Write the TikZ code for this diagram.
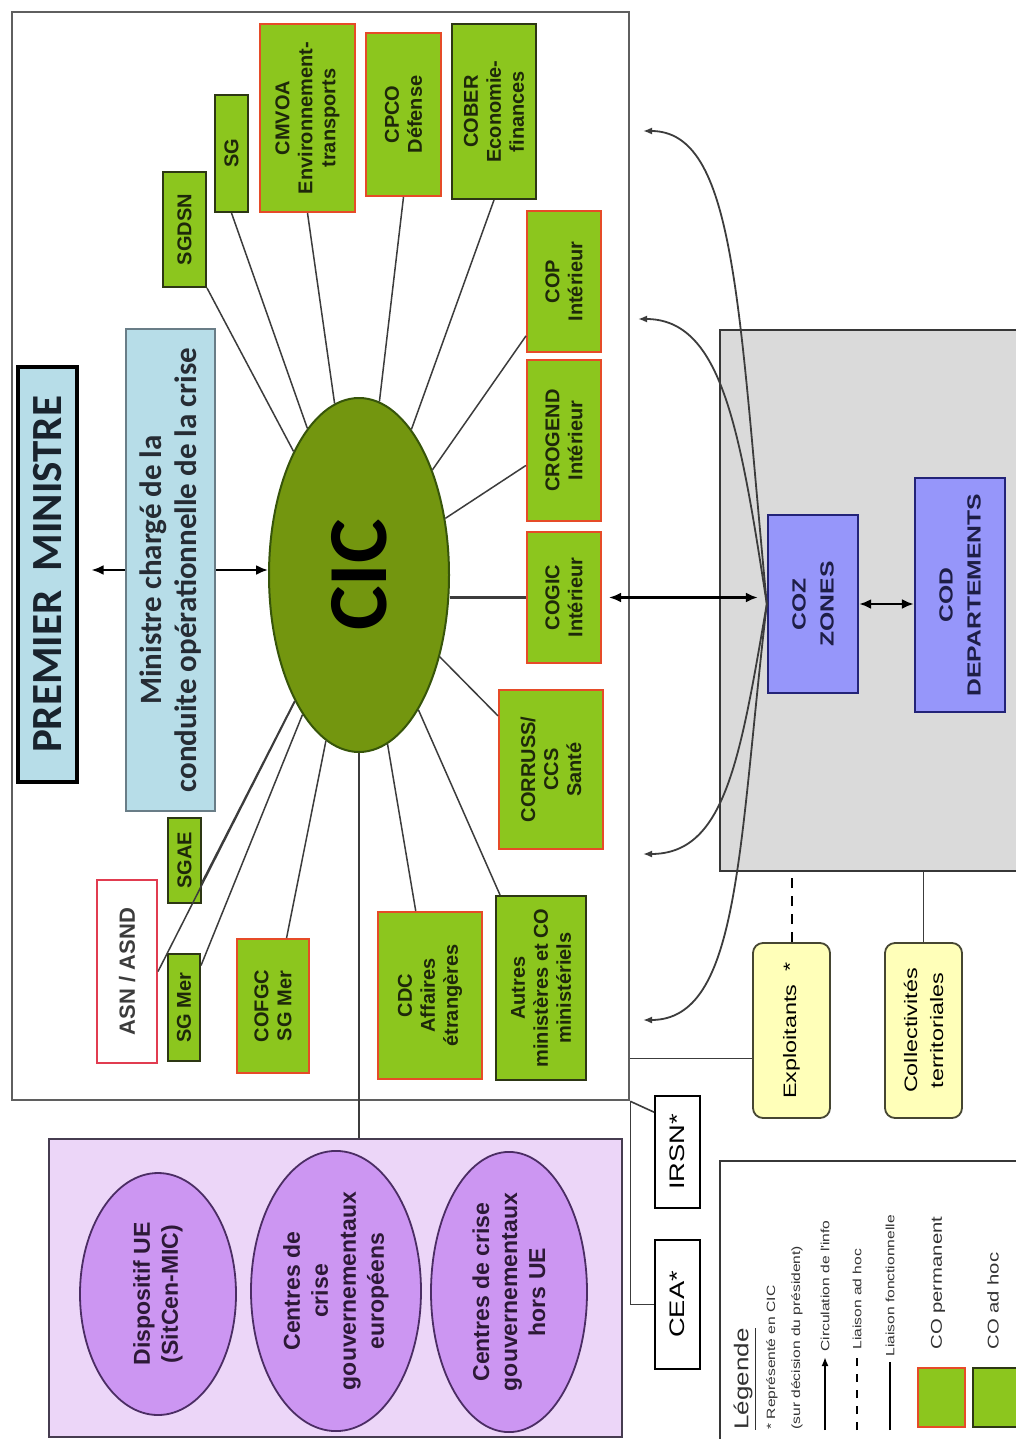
\documentclass[tikz,border=0pt]{standalone}
\usepackage{fontspec}
\setmainfont{Liberation Sans}
\newfontfamily\calib{Carlito}
\newfontfamily\widesans[FakeStretch=1.3]{Liberation Sans}
\usetikzlibrary{shapes.geometric,arrows.meta,calc}

\definecolor{cogreen}{RGB}{140,198,30}
\definecolor{permred}{RGB}{230,75,40}
\definecolor{adhocdark}{RGB}{45,55,20}
\definecolor{cicgreen}{RGB}{115,150,15}
\definecolor{cicborder}{RGB}{55,85,10}
\definecolor{lightblue}{RGB}{183,221,232}
\definecolor{pmtext}{RGB}{25,35,45}
\definecolor{mintext}{RGB}{38,44,52}
\definecolor{minborder}{RGB}{105,125,135}
\definecolor{framegray}{RGB}{95,95,95}
\definecolor{linegray}{RGB}{60,60,60}
\definecolor{greyfill}{RGB}{218,218,218}
\definecolor{greyborder}{RGB}{55,55,55}
\definecolor{zoneblue}{RGB}{150,150,250}
\definecolor{zoneborder}{RGB}{35,35,120}
\definecolor{zonetext}{RGB}{30,30,70}
\definecolor{yellowfill}{RGB}{255,255,185}
\definecolor{yellowborder}{RGB}{70,70,50}
\definecolor{asnred}{RGB}{225,60,80}
\definecolor{lavender}{RGB}{236,214,248}
\definecolor{lavborder}{RGB}{70,60,80}
\definecolor{ellfill}{RGB}{204,150,242}
\definecolor{ellborder}{RGB}{75,45,100}
\definecolor{elltext}{RGB}{45,25,55}
\definecolor{boxtext}{RGB}{30,40,10}
\definecolor{legtextcol}{RGB}{50,50,50}

\newcommand\boxfont{\fontsize{10}{11.5}\selectfont\bfseries}
\newcommand\pmfont{\calib\bfseries\fontsize{21.5}{24}\selectfont}
\newcommand\minfont{\calib\bfseries\fontsize{15.5}{17.5}\selectfont}
\newcommand\cicfont{\calib\bfseries\fontsize{42}{44}\selectfont}
\newcommand\zonefont{\widesans\bfseries\fontsize{9.5}{14}\selectfont}
\newcommand\sidefont{\widesans\fontsize{9}{13}\selectfont}
\newcommand\tagfont{\widesans\fontsize{10.5}{12}\selectfont}
\newcommand\ellfont{\bfseries\fontsize{11.5}{14}\selectfont}
\newcommand\legsmall{\widesans\fontsize{6}{7}\selectfont}
\newcommand\legmid{\widesans\fontsize{7.8}{9}\selectfont}
\newcommand\legbig{\widesans\fontsize{10}{12}\selectfont}

\tikzset{
  sz/.style 2 args={minimum width=#1*0.5pt, minimum height=#2*0.5pt},
  rbox/.style={rotate=90, draw, align=center, inner sep=1pt},
  perm/.style={rbox, fill=cogreen, draw=permred, line width=1pt, font=\boxfont, text=boxtext},
  adhoc/.style={rbox, fill=cogreen, draw=adhocdark, line width=1pt, font=\boxfont, text=boxtext},
  spoke/.style={draw=linegray, line width=0.75pt},
  arr/.style={-{Latex[length=6pt,width=5pt]}, line width=1.1pt, draw=black},
  darr/.style={{Latex[length=6pt,width=5pt]}-{Latex[length=6pt,width=5pt]}, line width=1.3pt, draw=black},
  carr/.style={-{Latex[length=4.5pt,width=3.5pt]}, line width=0.9pt, draw=linegray},
  plain/.style={draw=linegray, line width=0.8pt},
  side/.style={rbox, rounded corners=5pt, fill=yellowfill, draw=yellowborder, line width=0.9pt, font=\sidefont},
  tag/.style={rbox, fill=white, draw=black, line width=0.8pt, font=\tagfont},
  uell/.style={ellipse, rotate=90, draw=ellborder, fill=ellfill, line width=0.9pt, align=center, inner sep=0pt, font=\ellfont, text=elltext},
  legtext/.style={rotate=90, anchor=west, inner sep=0pt, text=legtextcol, font=\legsmall},
}

\begin{document}
\begin{tikzpicture}[x=0.5pt, y=-0.5pt]
\clip (0,0) rectangle (1016,1439);
\fill[white] (0,0) rectangle (1016,1439);

% national frame
\node[draw=framegray, line width=1.3pt, minimum width=308.5pt, minimum height=544pt, inner sep=0pt] (frame) at (320.5,556) {};

% top of the chain
\node[rbox, sz={415}{59}, fill=lightblue, draw=black, line width=1.6pt, font=\pmfont, text=pmtext] (pm) at (47.5,574.5) {PREMIER\ \ MINISTRE};
\node[rbox, sz={482}{89}, fill=lightblue, draw=minborder, line width=0.8pt, font=\minfont, text=mintext] (min) at (170.5,570) {Ministre chargé de la\\conduite opérationnelle de la crise};

% central crisis cell
\node[ellipse, rotate=90, sz={354}{180}, fill=cicgreen, draw=cicborder, line width=1pt, inner sep=0pt, font=\cicfont, text=black] (cic) at (359,575) {CIC};

% operational centres
\node[adhoc, sz={115}{43}] (sgdsn) at (184.5,229.5) {SGDSN};
\node[adhoc, sz={117}{33}] (sg) at (231.5,153.5) {SG};
\node[perm, sz={188}{95}] (cmvoa) at (307.5,118) {CMVOA\\Environnement-\\transports};
\node[perm, sz={163}{75}] (cpco) at (403.5,114.5) {CPCO\\Défense};
\node[adhoc, sz={175}{84}] (cober) at (494,111.5) {COBER\\Economie-\\finances};
\node[perm, sz={141}{74}] (cop) at (564,281.5) {COP\\Intérieur};
\node[perm, sz={161}{74}] (crogend) at (564,440.5) {CROGEND\\Intérieur};
\node[perm, sz={131}{74}] (cogic) at (564,597.5) {COGIC\\Intérieur};
\node[perm, sz={159}{104}] (corruss) at (551,769.5) {CORRUSS/\\CCS\\Santé};
\node[adhoc, sz={184}{90}] (autres) at (541,988) {Autres\\ministères et CO\\ministériels};
\node[perm, sz={167}{104}] (cdc) at (430,995.5) {CDC\\Affaires\\étrangères};
\node[perm, sz={134}{72}] (cofgc) at (273,1006) {COFGC\\SG Mer};
\node[adhoc, sz={107}{32}] (sgmer) at (184,1007.5) {SG Mer};
\node[adhoc, sz={85}{33}] (sgae) at (184.5,860.5) {SGAE};
\node[rbox, sz={183}{60}, fill=white, draw=asnred, line width=1pt, font=\fontsize{11}{13}\selectfont\bfseries, text=linegray] (asn) at (127,971.5) {ASN / ASND};

% links to the CIC
\draw[arr] (min.north) -- (min.north -| pm.south) [shorten >=6.5pt];
\draw[arr] (min.south) -- (min.south -| cic.north);
\draw[spoke] (sgdsn.south west) -- (cic);
\draw[spoke] (sg.west) -- (cic);
\draw[spoke] (cmvoa.west) -- (cic);
\draw[spoke] (cpco.west) -- (cic);
\draw[spoke] (cober.west) -- (cic);
\draw[spoke] (cop) -- (cic);
\draw[spoke] (crogend) -- (cic);
\draw[spoke, line width=1.2pt] (cogic.north) -- (cogic.north -| cic.south);
\draw[spoke] (corruss) -- (cic);
\draw[spoke] (autres) -- (cic);
\draw[spoke] (cdc) -- (cic);
\draw[spoke] (cofgc) -- (cic);
\draw[spoke] (sgmer) -- (cic);
\draw[spoke] ($(sgae.south)!0.5!(sgae.south west)$) -- (cic);
\draw[spoke] (asn.south) -- (cic);

% territorial level
\node[draw=greyborder, fill=greyfill, line width=0.9pt, minimum width=150pt, minimum height=270.5pt, inner sep=0pt] (grey) at (870,600.5) {};
\node[rbox, sz={178}{90}, fill=zoneblue, draw=zoneborder, line width=1.2pt, font=\zonefont, text=zonetext] (coz) at (813,604) {COZ\\ZONES};
\node[rbox, sz={234}{90}, fill=zoneblue, draw=zoneborder, line width=1.2pt, font=\zonefont, text=zonetext] (cod) at (960,595) {COD\\DEPARTEMENTS};
\draw[darr] (cogic.south) -- (cogic.south -| coz.north) [shorten <=3.5pt, shorten >=4.5pt];
\draw[darr] (coz.south) -- (coz.south -| cod.north);

\coordinate (t1) at (643,131);
\coordinate (t2) at (638,319);
\coordinate (t3) at (643,854);
\coordinate (t4) at (643,1020);
\draw[carr] (coz.north) .. controls (738,300) and (735,131) .. (t1);
\draw[carr] (coz.north) .. controls (740,430) and (722,319) .. (t2);
\draw[carr] (coz.north) .. controls (740,760) and (725,854) .. (t3);
\draw[carr] (coz.north) .. controls (738,850) and (740,1020) .. (t4);

\node[side, sz={175}{77}] (expl) at (791.5,1030.5) {Exploitants~~*};
\node[side, sz={175}{77}] (coll) at (923.5,1030.5) {Collectivités\\territoriales};
\draw[plain, draw=black, line width=1pt, dashed, dash pattern=on 5pt off 4pt] (expl.east) -- (expl.east |- grey.south);
\draw[plain] (coll.east) -- (coll.east |- grey.south);
\coordinate (ex) at ($(expl.north)+(0,28)$);
\draw[plain] (ex) -- (ex -| frame.east);

\node[tag, sz={112}{45}] (irsn) at (677.5,1152) {IRSN*};
\node[tag, sz={129}{45}] (cea) at (677.5,1304.5) {CEA*};
\draw[plain] (frame.south east) -- ($(irsn.north east)!0.15!(irsn.north west)$);
\draw[plain] (frame.south east) |- (cea.north);

% international level
\node[draw=lavborder, fill=lavender, line width=1pt, minimum width=286.5pt, minimum height=149pt, inner sep=0pt] (intl) at (335.5,1288) {};
\draw[plain] (cic.west) -- (cic.west |- intl.north);
\node[uell, sz={242}{156}] (ue) at (158,1294) {Dispositif UE\\(SitCen-MIC)};
\node[uell, sz={278}{170}] (eur) at (336,1291) {Centres de\\crise\\gouvernementaux\\européens};
\node[uell, sz={264}{156}] (hue) at (509,1292) {Centres de crise\\gouvernementaux\\hors UE};

% legend
\node[draw=greyborder, line width=0.9pt, minimum width=155pt, minimum height=144.5pt, inner sep=0pt] (leg) at (875,1305.5) {};
\node[legtext, font=\legbig] (legtitle) at (745,1430) {\underline{Légende}};
\node[legtext] (leg1) at (772,1430) {* Représenté en CIC};
\node[legtext] (leg2) at (797,1430) {(sur décision du président)};
\draw[carr, draw=black] (825,1430) -- (825,1357);
\node[legtext] (leg3) at (825,1352) {Circulation de l'info};
\draw[plain, draw=black, dashed, dash pattern=on 4pt off 4pt] (857,1430) -- (857,1358);
\node[legtext] (leg4) at (857,1350) {Liaison ad hoc};
\draw[plain, draw=black] (890,1430) -- (890,1362);
\node[legtext] (leg5) at (890,1357) {Liaison fonctionnelle};
\node[fill=cogreen, draw=permred, line width=1pt, minimum width=23.5pt, minimum height=29.5pt, inner sep=0pt] (sqperm) at (941.5,1397.5) {};
\node[legtext, font=\legmid] (leg6) at (938,1350) {CO permanent};
\node[fill=cogreen, draw=adhocdark, line width=1pt, minimum width=28.5pt, minimum height=29.5pt, inner sep=0pt] (sqadhoc) at (1001.5,1397.5) {};
\node[legtext, font=\legmid] (leg7) at (993,1350) {CO ad hoc};
\end{tikzpicture}
\end{document}
